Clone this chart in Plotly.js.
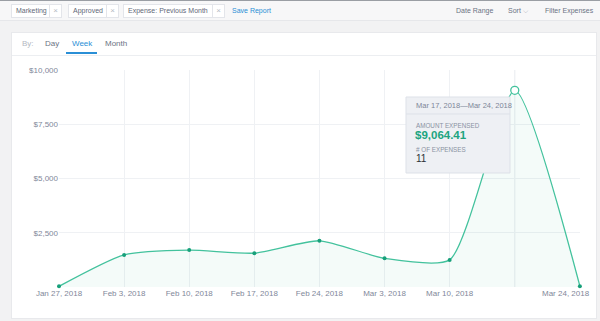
<!DOCTYPE html>
<html>
<head>
<meta charset="utf-8">
<script src="https://cdn.plot.ly/plotly-3.0.1.min.js"></script>
<style>
  html, body { margin:0; padding:0; width:600px; height:321px; overflow:hidden; background:#f2f2f3; font-family:"Liberation Sans", Arial, sans-serif; }
  #top { position:absolute; left:0; top:0; width:600px; height:21px; background:#f7f7f8; border-top:1px solid #9a9ea4; border-bottom:1px solid #e6e7ea; box-sizing:border-box; }
  .tag { position:absolute; top:3px; height:14px; background:#fff; border:1px solid #e3e5ea; box-sizing:border-box; font-size:7px; color:#5f6878; line-height:12px; padding-left:4px; white-space:nowrap; }
  .tag .x { position:absolute; right:0; top:0; width:11px; height:12px; border-left:1px solid #e3e5ea; color:#b5bac4; text-align:center; font-size:8px; }
  .lnk { position:absolute; top:4px; font-size:7px; line-height:12px; }
  #card { position:absolute; left:11px; top:32px; width:586px; height:287px; background:#fff; border:1px solid #e8e9ec; box-sizing:border-box; }
  .tab { position:absolute; top:38px; font-size:8px; color:#6b7384; line-height:12px; }
  #uline { position:absolute; left:66px; top:52px; width:31px; height:2px; background:#2a8fd6; }
  #sep { position:absolute; left:12px; top:55px; width:584px; height:1px; background:#eceef1; }
  #chart { position:absolute; left:0; top:0; width:600px; height:321px; }
</style>
</head>
<body>
<div id="top">
  <div class="tag" style="left:11px;width:51px;">Marketing<span class="x">×</span></div>
  <div class="tag" style="left:68px;width:51px;">Approved<span class="x">×</span></div>
  <div class="tag" style="left:123px;width:102px;">Expense: Previous Month<span class="x">×</span></div>
  <div class="lnk" style="left:232px;color:#2a8fd6;">Save Report</div>
  <div class="lnk" style="left:456px;color:#6b7384;">Date Range</div>
  <div class="lnk" style="left:508px;color:#6b7384;">Sort ⌵</div>
  <div class="lnk" style="left:545px;color:#6b7384;">Filter Expenses</div>
</div>
<div id="card"></div>
<div class="tab" style="left:22px;color:#b3b8c2;">By:</div>
<div class="tab" style="left:45px;">Day</div>
<div class="tab" style="left:72px;color:#2a8fd6;">Week</div>
<div class="tab" style="left:105px;">Month</div>
<div id="uline"></div>
<div id="sep"></div>
<div id="chart"></div>
<script>
// ---- data ----
const weeks = ['2018-01-27','2018-02-03','2018-02-10','2018-02-17','2018-02-24','2018-03-03','2018-03-10','2018-03-17','2018-03-24'];
const amounts = [30, 1480, 1700, 1560, 2130, 1320, 1250, 9064.41, 40];
const tickLabels = ['Jan 27, 2018','Feb 3, 2018','Feb 10, 2018','Feb 17, 2018','Feb 24, 2018','Mar 3, 2018','Mar 10, 2018','','Mar 24, 2018'];
const yTickVals = [2500, 5000, 7500, 10000];
const yTickText = ['$2,500','$5,000','$7,500','$10,000'];
const hoverIndex = 7;
const hoverHeader = 'Mar 17, 2018—Mar 24, 2018';
const hoverAmount = '$9,064.41';
const hoverCount = '11';

// plot area in pixels
const L = 59, R = 20, T = 70, B = 34, W = 600, H = 321;
const pw = W - L - R, ph = H - T - B;
const fx = px => (px - L) / pw;
const fy = py => (H - B - py) / ph;

// the last label sits left of its tick in the reference; draw it as an annotation
const lastIdx = tickLabels.length - 1;
const shownTickText = tickLabels.map((t, i) => i === lastIdx ? '' : t);

const teal = '#43c29d';
const traces = [
  {
    x: weeks, y: amounts, type: 'scatter', mode: 'lines+markers',
    line: { shape: 'spline', smoothing: 0.6, color: teal, width: 1.3 },
    fill: 'tozeroy', fillcolor: 'rgba(61,189,152,0.06)',
    marker: { size: 4, color: '#17a07a' },
    hoverinfo: 'skip', cliponaxis: false
  },
  {
    x: [weeks[hoverIndex]], y: [amounts[hoverIndex]], type: 'scatter', mode: 'markers',
    marker: { size: 8, color: '#ffffff', line: { color: teal, width: 1.3 } },
    hoverinfo: 'skip', cliponaxis: false
  }
];

const tipX0 = 406, tipX1 = 510, tipY0 = 97, tipY1 = 173;
const shapes = [
  { type: 'line', xref: 'x', yref: 'paper', x0: weeks[hoverIndex], x1: weeks[hoverIndex], y0: 0, y1: 1,
    line: { color: '#e3e6eb', width: 1 }, layer: 'below' },
  { type: 'rect', xref: 'paper', yref: 'paper', x0: fx(tipX0), x1: fx(tipX1), y0: fy(tipY1), y1: fy(tipY0),
    fillcolor: '#eef0f4', line: { color: '#dde1e8', width: 1 }, layer: 'above' },
  { type: 'line', xref: 'paper', yref: 'paper', x0: fx(tipX0), x1: fx(tipX1), y0: fy(114), y1: fy(114),
    line: { color: '#dde1e8', width: 1 }, layer: 'above' }
];
const FONT = 'Liberation Sans, Arial, sans-serif';
const ann = (text, px, py, size, color, extra) => Object.assign({
  text, xref: 'paper', yref: 'paper', x: fx(px), y: fy(py), xanchor: 'left', yanchor: 'middle',
  showarrow: false, font: { size, color, family: FONT }
}, extra || {});
const annotations = [
  ann(hoverHeader, 414, 106, 7.5, '#7d8698'),
  ann('AMOUNT EXPENSED', 414, 125, 6.3, '#8a92a3'),
  ann('<b>' + hoverAmount + '</b>', 413, 135, 11.5, '#20a47f'),
  ann('# OF EXPENSES', 414, 149, 6.3, '#8a92a3'),
  ann(hoverCount, 414, 158, 10, '#2b2f36'),
  { text: tickLabels[lastIdx], xref: 'x', yref: 'paper', x: weeks[lastIdx], y: fy(293.5),
    xanchor: 'right', yanchor: 'middle', xshift: 12, showarrow: false,
    font: { size: 8, color: '#7f889a', family: FONT } }
];

const layout = {
  width: W, height: H,
  margin: { l: L, r: R, t: T, b: B, pad: 0 },
  paper_bgcolor: 'rgba(0,0,0,0)', plot_bgcolor: 'rgba(0,0,0,0)',
  showlegend: false,
  xaxis: {
    type: 'date', range: ['2018-01-27', '2018-03-24 00:20'],
    tickmode: 'array', tickvals: weeks, ticktext: shownTickText,
    showgrid: true, gridcolor: '#eff1f4', gridwidth: 1,
    zeroline: false, showline: false, ticks: '',
    tickfont: { size: 8, color: '#7f889a', family: FONT },
    fixedrange: true
  },
  yaxis: {
    range: [0, 10000], tickmode: 'array', tickvals: yTickVals, ticktext: yTickText,
    showgrid: true, gridcolor: '#eff1f4', gridwidth: 1,
    zeroline: false, showline: false, ticks: '',
    tickfont: { size: 8, color: '#7f889a', family: FONT },
    fixedrange: true
  },
  shapes, annotations
};
Plotly.newPlot('chart', traces, layout, { displayModeBar: false, staticPlot: true });
</script>
</body>
</html>
